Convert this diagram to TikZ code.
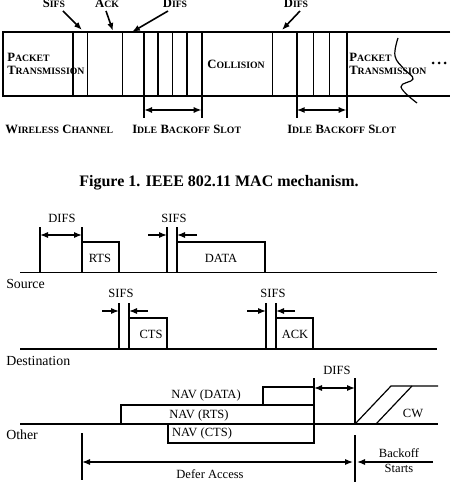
\documentclass[tikz,border=0pt]{standalone}
\usepackage{fontspec}
\setmainfont{Liberation Serif}
\usetikzlibrary{arrows.meta}
% hand-made small capitals for the channel diagram
\newcommand{\capsA}[2]{{\fontsize{9.5}{10}\selectfont\bfseries #1}{\fontsize{7.3}{8}\selectfont\bfseries #2}}
\begin{document}
\begin{tikzpicture}[x=0.75pt,y=-0.75pt,
  chan/.style={line width=1.2pt},
  tline/.style={line width=0.9pt},
  tip/.style={-{Latex[length=6pt,width=4.6pt]}},
  twotip/.style={{Latex[length=6pt,width=4.6pt]}-{Latex[length=6pt,width=4.6pt]}},
  sclabel/.style={inner sep=0pt},
  lbl/.style={font=\fontsize{9.4}{10}\selectfont, inner sep=0pt},
  side/.style={font=\fontsize{10.4}{11}\selectfont, inner sep=0pt, anchor=west},
]
\useasboundingbox (0,0) rectangle (450,488);

% ---------------- channel timeline ----------------
\node[sclabel, anchor=west, align=left] (pt1) at (7,64)
  {\capsA{P}{ACKET}\\[-1.8pt]\capsA{T}{RANSMISSION}};
\node[sclabel] (coll) at (236,64) {\capsA{C}{OLLISION}};
\node[sclabel, anchor=west, align=left] (pt2) at (349,64)
  {\capsA{P}{ACKET}\\[-1.8pt]\capsA{T}{RANSMISSION}};

\draw[chan] (450,32) -- (3,32) -- (3,96) -- (450,96);
\foreach \x in {72.7,87.3,122.3,158,172.3,186.7,272.3,313.3,329.3}
  \draw[chan] (\x,32) -- (\x,96);
\foreach \x in {144,201.7,296.7,346.7}
  \draw[chan] (\x,32) -- (\x,118);

\draw[chan,twotip] (144,110) -- (201.7,110);
\draw[chan,twotip] (296.7,110) -- (346.7,110);

% break mark and continuation dots
\draw[line width=0.9pt] plot[smooth,tension=0.7] coordinates
  {(398,38) (395,56) (404,69) (413,79) (401,87) (417,103)};
\foreach \x in {433,439,445} \fill (\x,63) circle (1.5);

% labels above the channel
\node[sclabel, anchor=base] (sifsT) at (54,8) {\capsA{S}{IFS}};
\node[sclabel, anchor=base] (ackT) at (107,8) {\capsA{A}{CK}};
\node[sclabel, anchor=base] (difsT) at (175,8) {\capsA{D}{IFS}};
\node[sclabel, anchor=base] (difsT2) at (296,8) {\capsA{D}{IFS}};
\draw[chan,tip] (63,11) -- (82,30);
\draw[chan,tip] (106,11) -- (113,31);
\draw[chan,tip] (168,11) -- (132,32);
\draw[chan,tip] (300,11) -- (282,30);

% labels below the channel
\node[sclabel, anchor=base west] (wc) at (5,134) {\capsA{W}{IRELESS} \capsA{C}{HANNEL}};
\node[sclabel, anchor=base west] (ib1) at (132,134) {\capsA{I}{DLE} \capsA{B}{ACKOFF} \capsA{S}{LOT}};
\node[sclabel, anchor=base west] (ib2) at (287,134) {\capsA{I}{DLE} \capsA{B}{ACKOFF} \capsA{S}{LOT}};

\node[inner sep=0pt, anchor=base, font=\fontsize{12}{14}\selectfont\bfseries] (cap)
  at (219,187) {Figure 1. IEEE 802.11 MAC mechanism.};

% ---------------- RTS/CTS timing ----------------
% source
\draw[tline] (20,272.7) -- (437,272.7);
\draw[tline] (40,227) -- (40,272.7);
\draw[tline] (82,227) -- (82,272.7);
\draw[tline,twotip] (40,235) -- (82,235);
\node[lbl] (difsS) at (62,218) {DIFS};
\draw[tline] (82,242) -- (119,242) -- (119,272.7);
\node[lbl] (rts) at (100,258) {RTS};
\draw[tline] (167,227) -- (167,272.7);
\draw[tline] (177,227) -- (177,272.7);
\draw[tline,tip] (148,235) -- (167,235);
\draw[tline,tip] (197,235) -- (177,235);
\node[lbl] (sifsS) at (174,218) {SIFS};
\draw[tline] (177,242) -- (265,242) -- (265,272.7);
\node[lbl] (data) at (221,258) {DATA};
\node[side] (src) at (6,284) {Source};

% destination
\draw[tline] (20,349) -- (437,349);
\draw[tline] (119,303) -- (119,349);
\draw[tline] (129,303) -- (129,349);
\draw[tline,tip] (102,311) -- (119,311);
\draw[tline,tip] (148,311) -- (129,311);
\node[lbl] (sifsD1) at (121,293) {SIFS};
\draw[tline] (129,318) -- (167,318) -- (167,349);
\node[lbl] (cts) at (151,334) {CTS};
\draw[tline] (266,303) -- (266,349);
\draw[tline] (276,303) -- (276,349);
\draw[tline,tip] (247,311) -- (266,311);
\draw[tline,tip] (295,311) -- (276,311);
\node[lbl] (sifsD2) at (273,293) {SIFS};
\draw[tline] (276,318) -- (313,318) -- (313,349);
\node[lbl] (ack) at (295,334) {ACK};
\node[side] (dst) at (6,361) {Destination};

% other stations
\draw[tline] (20,424) -- (438,424);
\draw[tline] (121,424) -- (121,405) -- (314,405);
\draw[tline] (263,405) -- (263,387) -- (314,387);
\draw[tline] (314,378) -- (314,443) -- (168,443) -- (168,424);
\node[lbl] (navd) at (206,395) {NAV (DATA)};
\node[lbl] (navr) at (199,415) {NAV (RTS)};
\node[lbl] (navc) at (202,433) {NAV (CTS)};
\draw[tline,twotip] (314,388) -- (355,388);
\node[lbl] (difsO) at (337,370) {DIFS};
\draw[tline] (355,378) -- (355,424);
\draw[tline] (355,435) -- (355,482);
\draw[tline] (355,424) -- (391,386) -- (438,386);
\draw[tline] (376,424) -- (412,386);
\node[lbl] (cw) at (413,413) {CW};
\draw[tline] (82,433) -- (82,480);
\draw[tline,twotip] (82,462) -- (353,462);
\node[lbl] (defer) at (210,474) {Defer Access};
\draw[tline,tip] (433,462) -- (357,462);
\node[lbl] (bo1) at (399,453) {Backoff};
\node[lbl] (bo2) at (399,468) {Starts};
\node[side] (oth) at (6,435) {Other};
\end{tikzpicture}
\end{document}
